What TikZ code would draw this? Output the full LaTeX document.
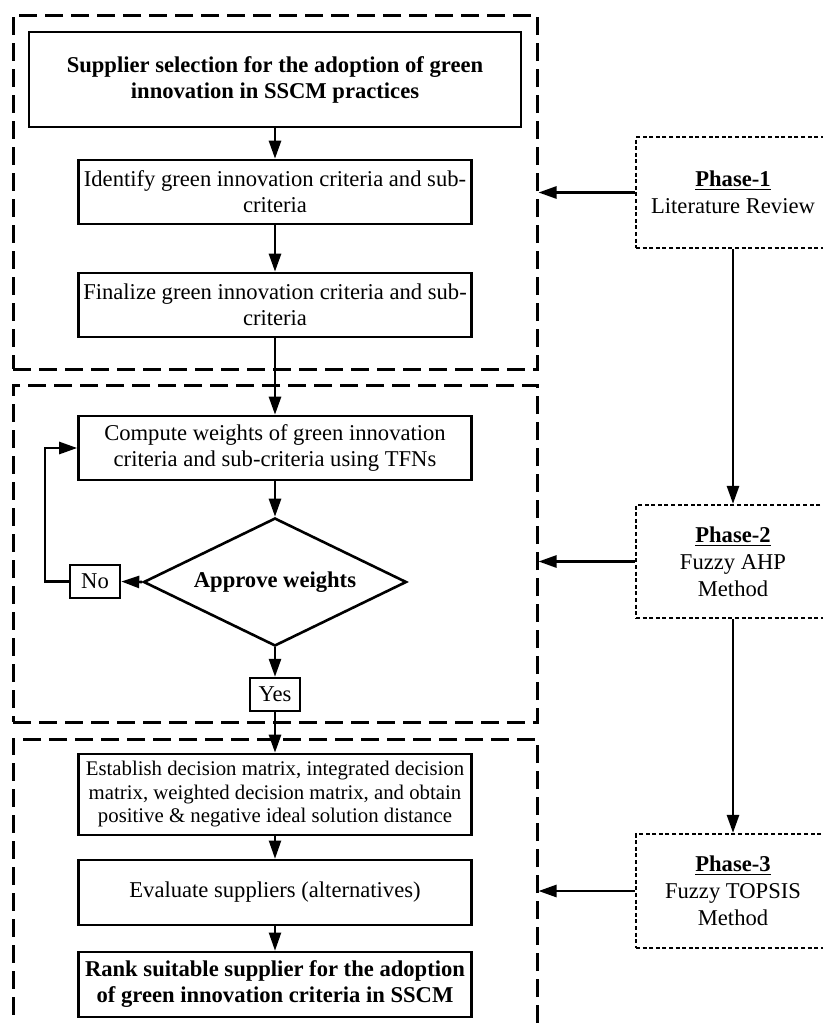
\documentclass[tikz,border=0pt]{standalone}
\usepackage{fontspec}
\setmainfont{Liberation Serif}
\usetikzlibrary{arrows.meta,positioning,shapes.geometric}
\tikzset{
  blk/.style={draw,rectangle,line width=1.3pt,align=center,inner sep=0pt,font=\fontsize{11.3}{13}\selectfont},
  topblk/.style={blk,minimum width=246pt,minimum height=47.5pt,font=\fontsize{11.3}{13}\selectfont\bfseries},
  stpblk/.style={blk,minimum width=196.5pt,minimum height=32pt},
  smlblk/.style={blk,minimum width=196.5pt,minimum height=40.5pt,font=\fontsize{10.4}{11.75}\selectfont},
  lastblk/.style={stpblk,minimum height=32.5pt,font=\fontsize{11.3}{13}\selectfont\bfseries},
  ansblk/.style={blk,line width=1.2pt,minimum width=25pt,minimum height=16.5pt},
  decblk/.style={diamond,draw,line width=1.3pt,aspect=2,inner sep=0pt,minimum width=131.5pt,minimum height=64pt,font=\fontsize{11.3}{13}\selectfont\bfseries},
  grpblk/.style={draw,rectangle,line width=1.5pt,dash pattern=on 9pt off 4pt,minimum width=262pt},
  phsblk/.style={draw,rectangle,line width=1.1pt,dash pattern=on 2pt off 1.3pt,minimum width=97pt,align=center,font=\fontsize{11.3}{13.5}\selectfont},
  arr/.style={-{Triangle[length=9pt,width=6pt]},line width=1.3pt},
  tarr/.style={-{Triangle[length=9pt,width=6pt]},line width=1pt}
}

\begin{document}
\begin{tikzpicture}[x=0.5pt,y=-0.5pt]
  \useasboundingbox (0,0) rectangle (823,1023);
  \clip (0,0) rectangle (823,1023);

  % phase groups
  \node[grpblk,minimum height=177pt] (grp1) at (275,192) {};
  \node[grpblk,minimum height=168.5pt] (grp2) at (275,553.5) {};
  \node[grpblk,minimum height=153pt] (grp3) at (275,892) {};

  % flow
  \node[topblk] (title) at (275,79.5) {Supplier selection for the adoption of green\\innovation in SSCM practices};
  \node[stpblk] (ident) at (275,192) {Identify green innovation criteria and sub-\\criteria};
  \node[stpblk] (final) at (275,305) {Finalize green innovation criteria and sub-\\criteria};
  \node[stpblk] (comp) at (275,448) {Compute weights of green innovation\\criteria and sub-criteria using TFNs};
  \node[decblk] (appr) at (275,582) {Approve weights};
  \node[ansblk] (no) at (95,581.5) {No};
  \node[ansblk] (yes) at (275,694.5) {Yes};
  \node[smlblk] (estab) at (275,794.5) {Establish decision matrix, integrated decision\\matrix, weighted decision matrix, and obtain\\positive \& negative ideal solution distance};
  \node[stpblk,minimum height=32.5pt] (eval) at (275,892.5) {Evaluate suppliers (alternatives)};
  \node[lastblk] (rank) at (275,984.5) {Rank suitable supplier for the adoption\\of green innovation criteria in SSCM};

  % phases
  \node[phsblk,minimum height=55.5pt] (ph1) at (733,192.5) {\underline{\textbf{Phase-1}}\\Literature Review};
  \node[phsblk,minimum height=56.5pt] (ph2) at (733,561.5) {\underline{\textbf{Phase-2}}\\Fuzzy AHP\\Method};
  \node[phsblk,minimum height=57pt] (ph3) at (733,891) {\underline{\textbf{Phase-3}}\\Fuzzy TOPSIS\\Method};

  \draw[arr] (title) -- (ident);
  \draw[arr] (ident) -- (final);
  \draw[arr] (final) -- (comp);
  \draw[arr] (comp) -- (appr);
  \draw[arr] (appr.west) -- (no.east);
  \draw[arr] (no.west) -- ++(-24,0) |- (comp.west);
  \draw[arr] (appr.south) -- (yes.north);
  \draw[arr] (yes) -- (estab);
  \draw[tarr] (estab) -- (eval);
  \draw[tarr] (eval) -- (rank);

  \draw[arr] (ph1) -- (ph2);
  \draw[arr] (ph2) -- (ph3);
  \draw[arr] (ph1.west) -- (ph1.west -| grp1.east);
  \draw[arr] (ph2.west) -- (ph2.west -| grp2.east);
  \draw[arr] (ph3.west) -- (ph3.west -| grp3.east);
\end{tikzpicture}
\end{document}
